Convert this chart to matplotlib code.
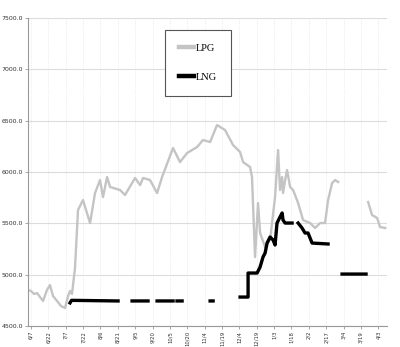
import numpy as np
import matplotlib
matplotlib.use('Agg')
import matplotlib.pyplot as plt

# x positions are days counted from 6/7
tick_days = np.arange(0, 301, 15)
tick_labels = ["6/7", "6/22", "7/7", "7/22", "8/6", "8/21", "9/5", "9/20", "10/5",
               "10/20", "11/4", "11/19", "12/4", "12/19", "1/3", "1/18", "2/2",
               "2/17", "3/4", "3/19", "4/3"]

lpg_day = [-2.6, 0, 2.6, 5.2, 7.8, 10.4, 13.8, 16.4, 19.0, 22.5, 25.9, 29.4, 32.0,
           33.7, 35.4, 38.0, 40.6, 44.9, 51.0, 55.3, 59.6, 62.2, 65.7, 68.3, 76.9,
           81.2, 89.9, 94.2, 96.8, 102.8, 108.9, 113.2, 122.7, 128.7, 134.8, 143.4,
           148.6, 154.7, 160.7, 167.6, 174.5, 180.6, 183.2, 189.2, 190.9, 193.5,
           196.1, 197.9, 202.2, 206.5, 210.8, 213.4, 215.1, 216.9, 217.7, 219.5,
           221.2, 223.8, 226.4, 230.7, 235.0, 241.1, 245.4, 249.7, 254.0, 256.6,
           260.1, 262.7, 265.3, 278.0,
           291.2, 294.6, 299.0, 301.5, 305.9]
lpg_val = [4851, 4841, 4812, 4821, 4782, 4744, 4851, 4899, 4792, 4744, 4695, 4675, 4792,
           4841, 4812, 5065, 5630, 5727, 5503, 5795, 5922, 5756, 5951, 5854, 5825,
           5776, 5942, 5873, 5942, 5922, 5795, 5951, 6234, 6097, 6185, 6243,
           6312, 6292, 6458, 6409, 6263, 6195, 6097, 6049, 5951, 5172,
           5698, 5406, 5269, 5338, 5756, 6214, 5825, 5951, 5795, 5922,
           6019, 5854, 5825, 5698, 5532, 5503, 5455, 5503, 5503, 5727,
           5893, 5922, 5903, np.nan,
           5708, 5581, 5552, 5464, 5455]

lng_day = [33.7, 35.0, 75.2, 80.0,
           87.3, 101.1, 105.0,
           108.9, 122.7, 124.5,
           126.1, 130.5, 140.0,
           154.7, 157.3, 170.0,
           180.6, 187.5, 187.5, 195.3, 197.9, 200.4, 202.2, 203.9, 206.5, 209.1,
           210.8, 212.5, 215.1, 216.9, 217.7, 219.5, 225.5, 228.0,
           230.7, 234.1, 236.7, 239.3, 242.8, 256.6, 262.0,
           268.7, 289.4]
lng_val = [4725, 4750, 4744, np.nan,
           4744, 4744, np.nan,
           4744, 4744, np.nan,
           4744, 4744, np.nan,
           4744, 4744, np.nan,
           4782, 4782, 5016, 5016, 5075, 5172, 5211, 5308, 5367, 5338,
           5289, 5503, 5562, 5601, 5532, 5503, 5503, np.nan,
           5503, 5455, 5406, 5406, 5308, 5299, np.nan,
           5006, 5006]

y_ticks = [4500, 5000, 5500, 6000, 6500, 7000, 7500]

fig = plt.figure(figsize=(4, 3.47), dpi=100)
ax = fig.add_axes([0.07, 0.0605, 0.8975, 0.8875])

ax.plot(lpg_day, lpg_val, color='#c4c4c4', linewidth=1.7, label='LPG')
ax.plot(lng_day, lng_val, color='black', linewidth=2.4, label='LNG')

ax.set_xlim(-2.6, 307.5)
ax.set_ylim(4500, 7500)
ax.set_xticks(tick_days)
ax.set_xticklabels(tick_labels, rotation=90, fontsize=3.8, color='#333333')
ax.set_yticks(y_ticks)
ax.set_yticklabels([f"{v}.0" for v in y_ticks], fontsize=4.5, color='#333333')

ax.grid(axis='y', color='#dcdcdc', linewidth=0.8)
ax.grid(axis='x', color='#e4e4e4', linewidth=0.6, linestyle=':')
for s in ['top', 'right']:
    ax.spines[s].set_visible(False)
for s in ['left', 'bottom']:
    ax.spines[s].set_color('#999999')
    ax.spines[s].set_linewidth(0.8)
ax.tick_params(axis='both', length=2, width=0.6, color='#999999', pad=1.5)

leg = ax.legend(loc='upper left', bbox_to_anchor=(0.382, 0.962),
                prop={'family': 'Liberation Serif', 'size': 7.5},
                labelspacing=1.85, handlelength=1.4, handletextpad=0.2,
                borderpad=1.35, borderaxespad=0, fancybox=False, framealpha=1)
leg.get_frame().set_edgecolor('#555555')
leg.get_frame().set_linewidth(0.8)
for line in leg.get_lines():
    line.set_linewidth(3.2)

plt.savefig("out.png", dpi=100)
